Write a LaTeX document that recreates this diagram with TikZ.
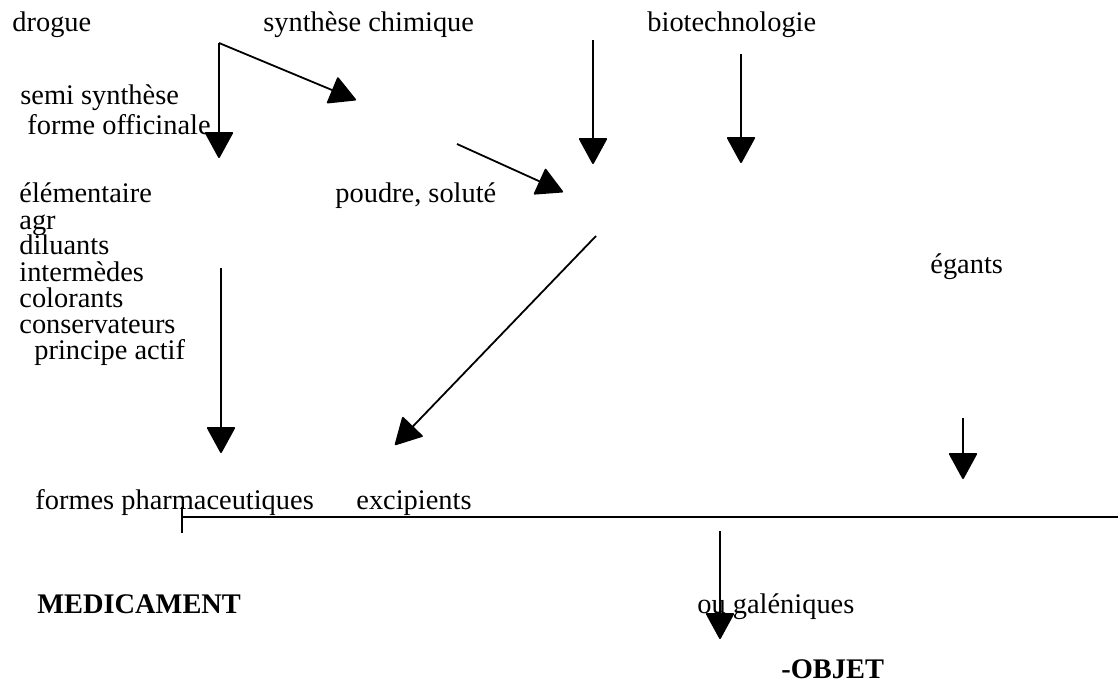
\documentclass[tikz,border=0pt]{standalone}
\usepackage{fontspec}
\setmainfont{Liberation Serif}
\usetikzlibrary{arrows.meta}
\usetikzlibrary{positioning}
\tikzstyle{word}=[anchor=base west,inner sep=0pt,font=\fontsize{14.2}{13}\selectfont]
\tikzstyle{boldword}=[anchor=base west,inner sep=0pt,font=\fontsize{14.2}{13}\selectfont\bfseries]
\tikzstyle{flow} = [draw,line width=0.9pt,-{Triangle[length=13.5pt,width=14.5pt,round]}]
\tikzstyle{plainline} = [draw,line width=0.9pt]

\begin{document}
\begin{tikzpicture}[x=0.5pt,y=-0.5pt]
    \useasboundingbox (0,0) rectangle (1118,684);
    % First the words
    \foreach \pos/\name/\lbl in {{(12,32)/drogue/drogue}, {(263,32)/chimique/synthèse chimique},
        {(647,32)/biotech/biotechnologie}, {(20,105)/semi/semi synthèse},
        {(27,135)/officinale/forme officinale}, {(335,203)/poudre/{poudre, soluté}},
        {(19,203)/elementaire/élémentaire}, {(19,229)/agr/agr}, {(19,255)/diluants/diluants},
        {(19,281)/intermedes/intermèdes}, {(19,307)/colorants/colorants},
        {(19,333)/conservateurs/conservateurs}, {(34,359)/actif/principe actif},
        {(930,273)/egants/égants}, {(35,509)/formes/formes pharmaceutiques},
        {(356,509)/excipients/excipients}, {(697,613)/galeniques/ou galéniques}}
        \node[word] (\name) at \pos {\lbl};

    \foreach \pos/\name/\lbl in {{(37,613)/medicament/MEDICAMENT}, {(781,678)/objet/-OBJET}}
        \node[boldword] (\name) at \pos {\lbl};

    % Then the ends of the arrows
    \foreach \pos/\name in {{(219,43)/fork}, {(219,158)/semiend}, {(356,100)/chimend},
        {(457,144)/poudrefrom}, {(563,192)/poudreend}, {(593,40)/chimfrom}, {(593,164)/chimdown},
        {(741,54)/biofrom}, {(741,163)/bioend}, {(221,268)/actiffrom}, {(221,453)/actifend},
        {(596,236)/excipfrom}, {(395,445)/excipend}, {(963,418)/egantsfrom}, {(963,479)/egantsend},
        {(720,531)/objetfrom}, {(720,639)/objetend}, {(182,517)/barleft}, {(1118,517)/barright},
        {(182,507)/ticktop}, {(182,533)/tickbottom}}
        \path \pos coordinate (\name);

    % Connect them
    \foreach \source/ \dest in {fork/semiend, fork/chimend, poudrefrom/poudreend,
        chimfrom/chimdown, biofrom/bioend, actiffrom/actifend, excipfrom/excipend,
        egantsfrom/egantsend, objetfrom/objetend}
        \path[flow] (\source) -- (\dest);

    \path[plainline] (barleft) -- (barright);
    \path[plainline] (ticktop) -- (tickbottom);
\end{tikzpicture}
\end{document}
